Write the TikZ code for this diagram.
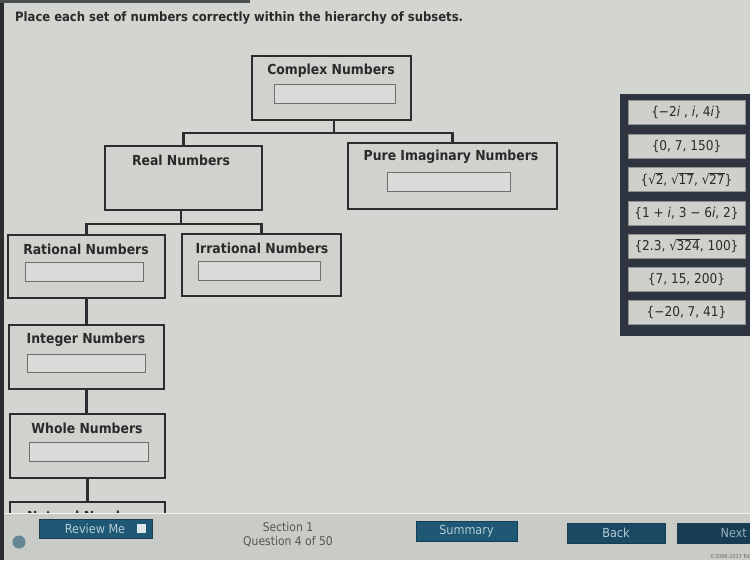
\documentclass[tikz,border=0pt]{standalone}
\usepackage{fontspec}
\setmainfont{DejaVu Sans Condensed}
\definecolor{bg}{HTML}{D3D5D1}
\definecolor{boxfill}{HTML}{D0D2CE}
\definecolor{boxline}{HTML}{2B2D30}
\definecolor{inline}{HTML}{6E6F6E}
\definecolor{panel}{HTML}{2F3540}
\definecolor{itemfill}{HTML}{CFD0CB}
\definecolor{txt}{HTML}{2A2A2A}
\definecolor{footer}{HTML}{C9CBC6}
\definecolor{btn}{HTML}{1F5875}
\definecolor{btndark}{HTML}{1B4862}
\definecolor{btntext}{HTML}{B5CCD8}
\newcommand\myrt[1]{√\kern-0.3pt\vbox{\hrule height .55pt\kern .9pt\hbox{#1}}}
\begin{document}
\begin{tikzpicture}[x=1pt,y=-1pt,
  bigbox/.style={draw=boxline, line width=2.6pt, fill=boxfill, inner sep=0pt},
  inbox/.style={draw=inline, line width=0.8pt, fill=boxfill!80!white, inner sep=0pt, minimum height=19pt},
  lbl/.style={font=\bfseries\fontsize{13.8}{16}\selectfont, text=txt, inner sep=0pt},
  link/.style={draw=boxline, line width=2.2pt},
  item/.style={fill=itemfill, draw=itemfill!70!black, line width=0.5pt, minimum width=117pt, minimum height=24pt, inner sep=0pt, font=\fontsize{13.5}{15}\selectfont, text=txt},
  btnbox/.style={fill=btn, draw=btn!70!black, line width=0.6pt, inner sep=0pt, minimum height=20pt, font=\fontsize{12.5}{14}\selectfont, text=btntext}
]
\useasboundingbox (0,0) rectangle (750,560);
\fill[bg] (0,0) rectangle (750,560);
\fill[boxline] (0,0) rectangle (4,560);
\fill[boxline!80!bg] (0,0) rectangle (250,3);

% title
\node[anchor=west, font=\bfseries\fontsize{12.9}{15}\selectfont, text=txt, inner sep=0pt] (title) at (15,18) {Place each set of numbers correctly within the hierarchy of subsets.};

% boxes
\node[bigbox, minimum width=159pt, minimum height=64pt] (complex) at (331.5,88) {};
\node[bigbox, minimum width=157pt, minimum height=64pt] (real) at (183.5,178) {};
\node[bigbox, minimum width=209pt, minimum height=66pt] (pure) at (452.5,176) {};
\node[bigbox, minimum width=157pt, minimum height=63pt] (rational) at (86.5,266.5) {};
\node[bigbox, minimum width=159pt, minimum height=62pt] (irrational) at (261.5,265) {};
\node[bigbox, minimum width=155pt, minimum height=64pt] (integer) at (86.5,357) {};
\node[bigbox, minimum width=155pt, minimum height=64pt] (whole) at (87.5,446) {};
\begin{scope}
\clip (0,0) rectangle (750,513);
\node[bigbox, minimum width=155pt, minimum height=64pt] (natural) at (87.5,534) {};
\node[lbl] (naturalL) at (87,516) {Natural Numbers};
\end{scope}

% labels
\node[lbl] (complexL) at (331,71) {Complex Numbers};
\node[lbl] (realL) at (181,160) {Real Numbers};
\node[lbl] (pureL) at (451,157) {Pure Imaginary Numbers};
\node[lbl] (rationalL) at (86,249) {Rational Numbers};
\node[lbl] (irrationalL) at (262,248) {Irrational Numbers};
\node[lbl] (integerL) at (86,340) {Integer Numbers};
\node[lbl] (wholeL) at (87,428) {Whole Numbers};

% input fields
\node[inbox, minimum width=121pt] (complexIn) at (334.5,93.5) {};
\node[inbox, minimum width=123pt] (pureIn) at (448.5,181.5) {};
\node[inbox, minimum width=118pt] (rationalIn) at (84,271.5) {};
\node[inbox, minimum width=122pt] (irrationalIn) at (259,270.5) {};
\node[inbox, minimum width=118pt, minimum height=18pt] (integerIn) at (86,363) {};
\node[inbox, minimum width=119pt] (wholeIn) at (88.5,451.5) {};

% connectors
\coordinate (j1) at (334,133);
\coordinate (j2) at (181,224);
\draw[link] (complex.south -| j1) -- (j1);
\draw[link] (real.north) |- (j1) -| (pure.north);
\draw[link] (real.south -| j2) -- (j2);
\draw[link] (rational.north) |- (j2) -| (irrational.north);
\draw[link] (rational.south) -- (integer.north);
\draw[link] (integer.south) -- (integer.south |- whole.north);
\draw[link] (whole.south) -- (whole.south |- natural.north);

% right panel
\fill[panel] (620,94) rectangle (750,336);
\node[item] (s1) at (686.5,112.5) {\{−2\textit{i} , \textit{i}, 4\textit{i}\}};
\node[item] (s2) at (686.5,146) {\{0, 7, 150\}};
\node[item] (s3) at (686.5,179.5) {\{\myrt{2}, \myrt{17}, \myrt{27}\}};
\node[item] (s4) at (686.5,213) {\{1 + \textit{i}, 3 − 6\textit{i}, 2\}};
\node[item] (s5) at (686.5,246) {\{2.3, \myrt{324}, 100\}};
\node[item] (s6) at (686.5,279.5) {\{7, 15, 200\}};
\node[item] (s7) at (686.5,312.5) {\{−20, 7, 41\}};

% footer
\fill[footer] (0,513) rectangle (750,560);
\fill[boxline] (0,513) rectangle (4,560);
\draw[white!70!bg, line width=1pt] (4,513) -- (750,513);
\node[btnbox, minimum width=113pt, minimum height=19pt] (review) at (95.5,528.5) {};
\node[font=\fontsize{12.5}{14}\selectfont, text=btntext, inner sep=0pt] (reviewT) at (95,528.5) {Review Me};
\node[fill=white!85!btn, minimum size=9pt, inner sep=0pt] (check) at (141,528.5) {};
\node[font=\fontsize{12}{14}\selectfont, text=txt!80!white, align=center, inner sep=0pt] (section) at (288,535) {Section 1\\Question 4 of 50};
\node[btnbox, minimum width=101pt] (summary) at (466.5,531) {Summary};
\node[btnbox, fill=btndark, minimum width=98pt] (back) at (616,533) {Back};
\node[btnbox, fill=btndark!85!black, minimum width=73pt, anchor=west] (next) at (677,533) {};
\node[font=\fontsize{12.5}{14}\selectfont, text=btntext!80!btndark, anchor=east, inner sep=0pt] (nextT) at (747,533) {Next};
\node[font=\fontsize{5.5}{6}\selectfont, text=txt!70!white, anchor=east, inner sep=0pt] (copy) at (750,556) {©2006-2017 Ed};
\node[circle, fill=btn!60!footer, minimum size=13pt, inner sep=0pt] (globe) at (19,542) {};
\end{tikzpicture}
\end{document}
